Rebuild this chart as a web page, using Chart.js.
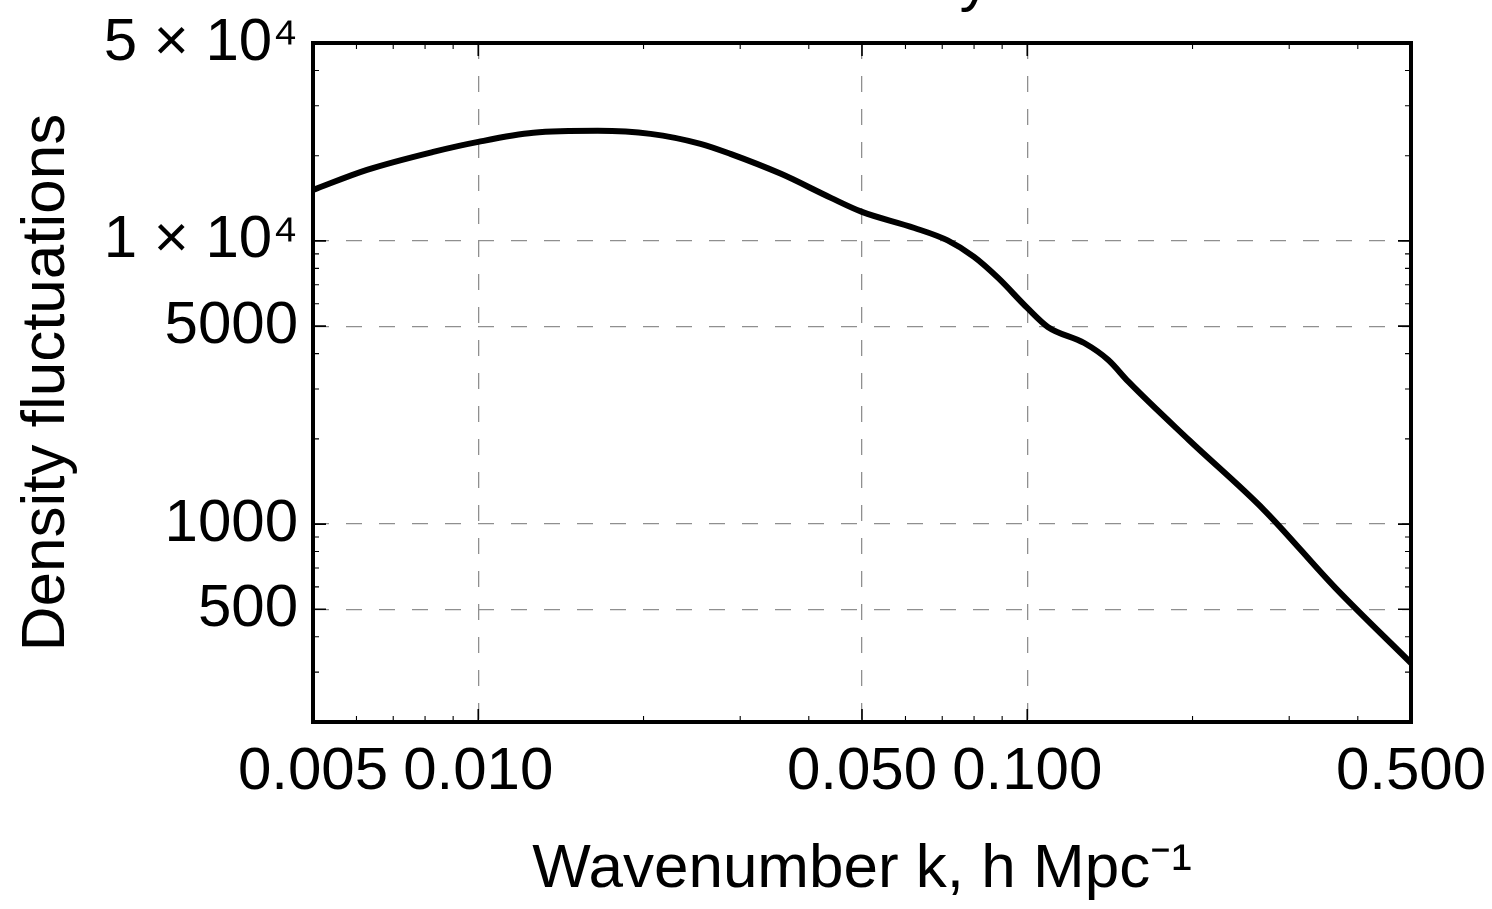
<!DOCTYPE html>
<html>
<head>
<meta charset="utf-8">
<script src="https://cdn.jsdelivr.net/npm/chart.js@4.4.0/dist/chart.umd.min.js"></script>
<style>
	html, body { margin: 0; padding: 0; background: #fff; }
	canvas { display: block; }
</style>
</head>
<body>
<canvas id="power_chart" width="1492" height="909"></canvas>
<script>
// data (k in h/Mpc, P(k))
const k_values = [0.005, 0.00627, 0.00828, 0.0100, 0.0126, 0.0165, 0.0206, 0.0254, 0.0288, 0.0356, 0.0439, 0.0500, 0.0623, 0.0716, 0.0800, 0.0885, 0.100, 0.109, 0.127, 0.1405, 0.153, 0.197, 0.270, 0.363, 0.500];
const p_values = [15140, 17820, 20630, 22380, 24080, 24470, 23880, 22020, 20290, 17250, 14190, 12660, 11110, 10040, 8780, 7400, 5800, 4970, 4360, 3798, 3176, 1981, 1121, 599, 323];

// ticks
const x_major = [0.005, 0.01, 0.05, 0.1, 0.5];
const x_labels = ["0.005", "0.010", "0.050", "0.100", "0.500"];
const x_minor = [0.006, 0.007, 0.008, 0.009, 0.02, 0.03, 0.04, 0.06, 0.07, 0.08, 0.09, 0.2, 0.3, 0.4];
const y_major = [500, 1000, 5000, 10000, 50000];
const y_labels = ["500", "1000", "5000", "1 × 10⁴", "5 × 10⁴"];
const y_minor = [200, 300, 400, 600, 700, 800, 900, 2000, 3000, 4000, 6000, 7000, 8000, 9000, 20000, 30000, 40000];

const font_family = "'Liberation Sans', Arial, Helvetica, sans-serif";
Chart.defaults.font.family = font_family;
Chart.defaults.color = "#000";

function findIndex(list, v) {
	return list.findIndex((m) => Math.abs(m - v) < m * 1e-6);
}

// inward ticks on all four sides + frame
const frame_plugin = {
	id: "frame_plugin",
	afterDraw(chart) {
		const { ctx, chartArea, scales } = chart;
		const { left, right, top, bottom } = chartArea;
		ctx.save();
		ctx.strokeStyle = "#000";

		x_major.concat(x_minor).forEach((v) => {
			const major = findIndex(x_major, v) >= 0;
			const px = scales.x.getPixelForValue(v);
			const len = major ? 13 : 6;
			ctx.lineWidth = major ? 1.6 : 1.1;
			ctx.beginPath();
			ctx.moveTo(px, bottom);
			ctx.lineTo(px, bottom - len);
			ctx.moveTo(px, top);
			ctx.lineTo(px, top + len);
			ctx.stroke();
		});

		y_major.concat(y_minor).forEach((v) => {
			const major = findIndex(y_major, v) >= 0;
			const py = scales.y.getPixelForValue(v);
			const len = major ? 13 : 6;
			ctx.lineWidth = major ? 1.6 : 1.1;
			ctx.beginPath();
			ctx.moveTo(left, py);
			ctx.lineTo(left + len, py);
			ctx.moveTo(right, py);
			ctx.lineTo(right - len, py);
			ctx.stroke();
		});

		ctx.lineWidth = 4;
		ctx.strokeRect(left, top, right - left, bottom - top);

		// plot title sits above the picture, only the tail of its "y" shows
		ctx.fillStyle = "#000";
		ctx.font = "62px " + font_family;
		ctx.textAlign = "center";
		ctx.textBaseline = "alphabetic";
		ctx.fillText("y", 975, -1);
		ctx.restore();
	},
};

const ctx = document.getElementById("power_chart").getContext("2d");

const grid_color = "#8f8f8f";

let my_chart = new Chart(ctx, {
	type: "line",
	data: {
		datasets: [
			{
				data: k_values.map((k, i) => ({ x: k, y: p_values[i] })),
				borderColor: "#000",
				borderWidth: 6,
				pointRadius: 0,
				fill: false,
				cubicInterpolationMode: "monotone",
			},
		],
	},
	options: {
		responsive: false,
		animation: false,
		layout: { padding: { left: 0, top: 43, right: 81, bottom: 0 } },
		plugins: {
			legend: { display: false },
			tooltip: { enabled: false },
		},
		scales: {
			x: {
				type: "logarithmic",
				min: 0.005,
				max: 0.5,
				afterBuildTicks: (scale) => {
					scale.ticks = x_major.map((v) => ({ value: v }));
				},
				afterFit: (scale) => {
					scale.height = 187;
					scale.paddingLeft = 0;
					scale.paddingRight = 0;
				},
				ticks: {
					autoSkip: false,
					maxRotation: 0,
					padding: 14,
					font: { size: 60 },
					callback: (v) => {
						const i = findIndex(x_major, v);
						return i >= 0 ? x_labels[i] : "";
					},
				},
				grid: {
					drawTicks: false,
					lineWidth: 1.3,
					color: grid_color,
				},
				border: { display: false, dash: [16, 17] },
				title: {
					display: true,
					text: "Wavenumber k, h Mpc⁻¹",
					font: { size: 62 },
					padding: { top: 0, bottom: 2 },
				},
			},
			y: {
				type: "logarithmic",
				min: 200,
				max: 50000,
				afterBuildTicks: (scale) => {
					scale.ticks = y_major.map((v) => ({ value: v }));
				},
				afterFit: (scale) => {
					scale.width = 313;
					scale.paddingTop = 0;
					scale.paddingBottom = 0;
				},
				ticks: {
					autoSkip: false,
					padding: 15,
					font: { size: 60 },
					callback: (v) => {
						const i = findIndex(y_major, v);
						return i >= 0 ? y_labels[i] : "";
					},
				},
				grid: {
					drawTicks: false,
					lineWidth: 1.3,
					color: grid_color,
				},
				border: { display: false, dash: [16, 17] },
				title: {
					display: true,
					text: "Density fluctuations",
					font: { size: 62 },
					padding: { top: 10, bottom: 0 },
				},
			},
		},
	},
	plugins: [frame_plugin],
});
</script>
</body>
</html>
